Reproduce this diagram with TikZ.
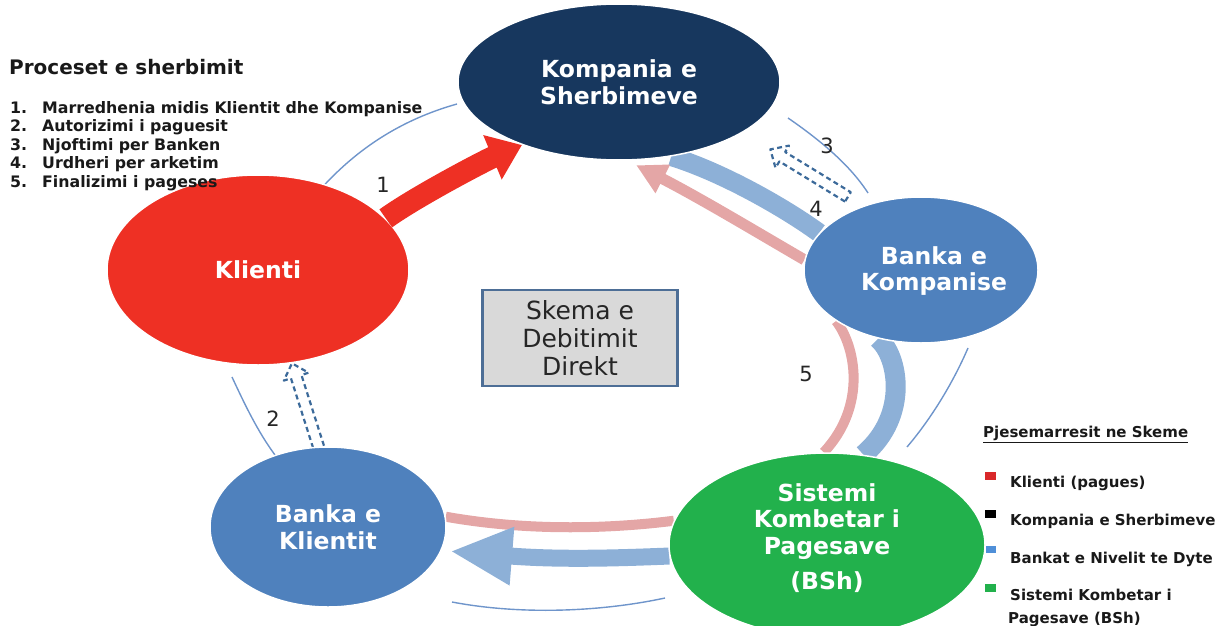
\documentclass[tikz,border=0pt]{standalone}
\usepackage{fontspec}
\setmainfont{DejaVu Sans}
\usetikzlibrary{arrows.meta,shapes.geometric,calc,backgrounds}
\definecolor{navy}{HTML}{17375E}
\definecolor{redA}{HTML}{EE3024}
\definecolor{blueE}{HTML}{4F81BD}
\definecolor{greenE}{HTML}{22B14C}
\definecolor{lband}{HTML}{8DB0D7}
\definecolor{pinkB}{HTML}{E4A6A6}
\definecolor{arcblue}{HTML}{6F95CB}
\definecolor{dashblue}{HTML}{3C6A9A}
\definecolor{boxfill}{HTML}{D9D9D9}
\definecolor{boxborder}{HTML}{4D6E96}
\definecolor{legred}{HTML}{D9282A}
\definecolor{legblue}{HTML}{4F8FD8}
\newcommand\dashblock[3]{%
  \coordinate (#3h) at ($(#2)!14pt!(#1)$);
  \draw[dasharr] ($(#1)!5.5pt!90:(#2)$) -- ($(#3h)!5.5pt!90:(#2)$) -- ($(#3h)!13pt!90:(#2)$) -- (#2)
     -- ($(#3h)!13pt!-90:(#2)$) -- ($(#3h)!5.5pt!-90:(#2)$) -- ($(#1)!5.5pt!-90:(#2)$) -- cycle;
}
\begin{document}
\begin{tikzpicture}[x=1pt,y=-1pt,
  ell/.style={ellipse, inner sep=0pt, draw=white, line width=1.5pt},
  etext/.style={text=white, font=\bfseries\fontsize{23.5}{26.5}\selectfont, align=center, inner sep=0pt},
  thinarc/.style={draw=arcblue, line width=1.4pt},
  dasharr/.style={draw=dashblue, line width=2.2pt, dash pattern=on 5pt off 3.5pt, line join=round},
  num/.style={font=\fontsize{21}{21}\selectfont, text=black!85, inner sep=0pt},
  leg/.style={font=\bfseries\fontsize{15}{18}\selectfont, anchor=base west, inner sep=0pt, text=black!90},
  legl/.style={leg, font=\bfseries\fontsize{15.8}{18}\selectfont},
]
\useasboundingbox (0,0) rectangle (1231,626);

% ellipses
\node[ell, fill=navy, minimum width=322pt, minimum height=156pt, etext] (ks) at (619,82) {Kompania e\\Sherbimeve};
\node[ell, fill=redA, minimum width=302pt, minimum height=190pt, etext] (kl) at (258,270) {Klienti};
\node[ell, fill=blueE, minimum width=234pt, minimum height=146pt] (bk) at (921,270) {};
\node[ell, fill=blueE, minimum width=236pt, minimum height=160pt, etext] (bc) at (328,527) {Banka e\\Klientit};
\node[ell, fill=greenE, minimum width=316pt, minimum height=184pt] (sk) at (827,545) {};
\node[etext] (bkt) at (934,271) {Banka e\\Kompanise};
\node[etext] (skt) at (827,538) {Sistemi\\Kombetar i\\Pagesave\\[9pt](BSh)};

\begin{pgfonlayer}{background}
% thin arcs
\draw[thinarc] (318,192) .. controls (355,150) and (400,120) .. (457,104);
\draw[thinarc] (788,118) .. controls (820,140) and (850,165) .. (868,193);
\draw[thinarc] (968,348) .. controls (952,385) and (930,420) .. (907,447);
\draw[thinarc] (452,602) .. controls (520,615) and (600,612) .. (665,598);
\draw[thinarc] (232,377) .. controls (245,405) and (258,432) .. (275,455);
% bands
\draw[lband, line width=19pt] (ks.-55) .. controls (722,172) and (785,208) .. (bk.160);
\draw[pinkB, line width=11pt, shorten >=10pt, -{Triangle[length=30pt,width=30pt]}] (bk.175) .. controls (760,234) and (700,198) .. (ks.-84);
\draw[pinkB, line width=10pt] (bk.211) .. controls (855,345) and (868,405) .. (sk.92);
\draw[lband, line width=20pt] (bk.238) .. controls (898,355) and (910,415) .. (sk.68);
\draw[pinkB, line width=10pt] (bc.5) .. controls (520,530) and (600,530) .. (sk.171);
\coordinate (tipB) at ($(bc.-11)+(8,2)$);
\draw[lband, line width=17pt, -{Triangle[length=62pt,width=54pt]}] (sk.184) .. controls (620,558) and (560,560) .. (tipB);
% dashed arrows
\coordinate (d2t) at ($(bc.95)+(0,8)$);
\coordinate (d2p) at (kl.-70);
\dashblock{d2t}{d2p}{dd}
\coordinate (d3t) at ($(bk.135)!-15pt!(bk.center)$);
\coordinate (d3p) at ($(ks.-24)!-35pt!(ks.center)$);
\dashblock{d3t}{d3p}{ee}
\end{pgfonlayer}

% red arrow
\draw[redA, line width=22pt, -{Triangle[length=32pt,width=46pt]}] (kl.22) .. controls (417,196) and (486,160) .. (ks.213);

% central box
\node[draw=boxborder, fill=boxfill, line width=2.2pt, minimum width=195pt, minimum height=96pt, align=center,
      font=\fontsize{25}{28}\selectfont, text=black!85] (box) at (580,338) {Skema e\\Debitimit\\Direkt};

% numbers
\node[num] (n1) at (383,185) {1};
\node[num] (n2) at (273,419) {2};
\node[num] (n3) at (827,146) {3};
\node[num] (n4) at (816,209) {4};
\node[num] (n5) at (806,374) {5};

% left legend
\node[anchor=base west, inner sep=0pt, font=\bfseries\fontsize{20}{24}\selectfont, text=black!90] (lt) at (9,74.5) {Proceset e sherbimit};
\node[legl] (l1n) at (10,113) {1.};   \node[legl] (l1) at (42,113) {Marredhenia midis Klientit dhe Kompanise};
\node[legl] (l2n) at (10,131.5) {2.}; \node[legl] (l2) at (42,131.5) {Autorizimi i paguesit};
\node[legl] (l3n) at (10,150) {3.};   \node[legl] (l3) at (42,150) {Njoftimi per Banken};
\node[legl] (l4n) at (10,168.5) {4.}; \node[legl] (l4) at (42,168.5) {Urdheri per arketim};
\node[legl] (l5n) at (10,187) {5.};   \node[legl] (l5) at (42,187) {Finalizimi i pageses};

% right legend
\node[leg] (rt) at (983,437.5) {\underline{Pjesemarresit ne Skeme}};
\fill[legred] (985,472) rectangle (996,480);
\fill[black] (985,510) rectangle (996,518);
\fill[legblue] (986,546) rectangle (996,553);
\fill[greenE] (985,584) rectangle (996,592);
\node[leg] (r1) at (1010,487) {Klienti (pagues)};
\node[leg] (r2) at (1010,525) {Kompania e Sherbimeve};
\node[leg] (r3) at (1010,563) {Bankat e Nivelit te Dyte};
\node[leg] (r4) at (1010,600) {Sistemi Kombetar i};
\node[leg] (r5) at (1008,623) {Pagesave (BSh)};
\end{tikzpicture}
\end{document}
